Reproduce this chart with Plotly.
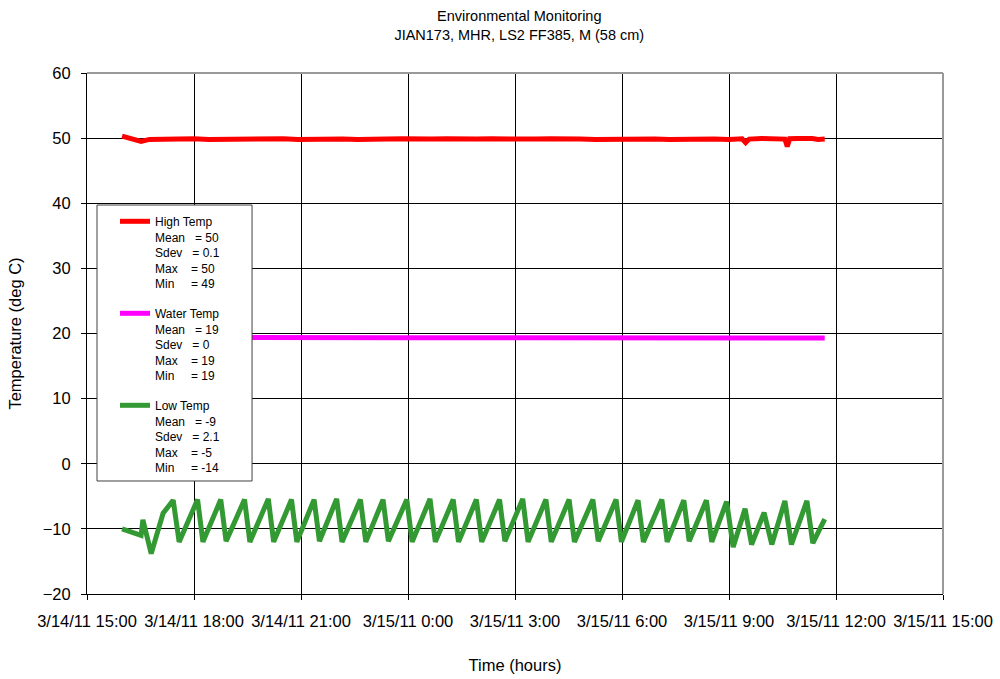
import plotly.graph_objects as go

# ---------------- data ----------------
x_tick_vals = ["2011-03-14 15:00", "2011-03-14 18:00", "2011-03-14 21:00",
               "2011-03-15 00:00", "2011-03-15 03:00", "2011-03-15 06:00",
               "2011-03-15 09:00", "2011-03-15 12:00", "2011-03-15 15:00"]
x_tick_text = ["3/14/11 15:00", "3/14/11 18:00", "3/14/11 21:00", "3/15/11 0:00",
               "3/15/11 3:00", "3/15/11 6:00", "3/15/11 9:00", "3/15/11 12:00",
               "3/15/11 15:00"]
y_tick_vals = [-20, -10, 0, 10, 20, 30, 40, 50, 60]

high_times = ["2011-03-14 15:59", "2011-03-14 16:31", "2011-03-14 16:45", "2011-03-14 17:10",
              "2011-03-14 17:35", "2011-03-14 18:00", "2011-03-14 18:25", "2011-03-14 18:50",
              "2011-03-14 19:15", "2011-03-14 19:40", "2011-03-14 20:05", "2011-03-14 20:30",
              "2011-03-14 20:55", "2011-03-14 21:20", "2011-03-14 21:45", "2011-03-14 22:10",
              "2011-03-14 22:35", "2011-03-14 23:00", "2011-03-14 23:25", "2011-03-14 23:50",
              "2011-03-15 00:15", "2011-03-15 00:40", "2011-03-15 01:05", "2011-03-15 01:30",
              "2011-03-15 01:55", "2011-03-15 02:20", "2011-03-15 02:45", "2011-03-15 03:10",
              "2011-03-15 03:35", "2011-03-15 04:00", "2011-03-15 04:25", "2011-03-15 04:50",
              "2011-03-15 05:15", "2011-03-15 05:40", "2011-03-15 06:05", "2011-03-15 06:30",
              "2011-03-15 06:55", "2011-03-15 07:20", "2011-03-15 07:45", "2011-03-15 08:10",
              "2011-03-15 08:35", "2011-03-15 09:00", "2011-03-15 09:22", "2011-03-15 09:28",
              "2011-03-15 09:34", "2011-03-15 09:55", "2011-03-15 10:15", "2011-03-15 10:34",
              "2011-03-15 10:38", "2011-03-15 10:42", "2011-03-15 10:55", "2011-03-15 11:10",
              "2011-03-15 11:20", "2011-03-15 11:30", "2011-03-15 11:41"]
high_vals = [50.3, 49.5, 49.8, 49.85, 49.8, 49.9, 49.8, 49.85, 49.9, 49.8, 49.85, 49.9,
             49.8, 49.85, 49.9, 49.85, 49.8, 49.9, 49.85, 49.9, 49.8, 49.85, 49.9, 49.8,
             49.85, 49.9, 49.85, 49.8, 49.85, 49.9, 49.8, 49.85, 49.8, 49.85, 49.8, 49.9,
             49.85, 49.8, 49.85, 49.9, 49.85, 49.8, 49.9, 49.3, 49.85, 49.95, 49.9, 49.85,
             48.7, 49.9, 49.95, 50.0, 49.95, 49.8, 49.85]

water_times = ["2011-03-14 15:59", "2011-03-14 18:00", "2011-03-14 21:00", "2011-03-15 00:00",
               "2011-03-15 03:00", "2011-03-15 06:00", "2011-03-15 09:00", "2011-03-15 11:41"]
water_vals = [19.4, 19.35, 19.35, 19.35, 19.35, 19.35, 19.3, 19.3]

low_times = ["2011-03-14 15:59", "2011-03-14 16:31", "2011-03-14 16:34", "2011-03-14 16:48",
             "2011-03-14 17:08", "2011-03-14 17:25", "2011-03-14 17:35",
             "2011-03-14 18:06", "2011-03-14 18:15", "2011-03-14 18:45", "2011-03-14 18:54",
             "2011-03-14 19:25", "2011-03-14 19:34", "2011-03-14 20:05", "2011-03-14 20:14",
             "2011-03-14 20:44", "2011-03-14 20:53", "2011-03-14 21:22", "2011-03-14 21:31",
             "2011-03-14 22:00", "2011-03-14 22:09", "2011-03-14 22:40", "2011-03-14 22:49",
             "2011-03-14 23:18", "2011-03-14 23:27", "2011-03-14 23:58", "2011-03-15 00:07",
             "2011-03-15 00:37", "2011-03-15 00:46", "2011-03-15 01:16", "2011-03-15 01:25",
             "2011-03-15 01:55", "2011-03-15 02:04", "2011-03-15 02:34", "2011-03-15 02:43",
             "2011-03-15 03:13", "2011-03-15 03:22", "2011-03-15 03:52", "2011-03-15 04:01",
             "2011-03-15 04:31", "2011-03-15 04:40", "2011-03-15 05:11", "2011-03-15 05:20",
             "2011-03-15 05:50", "2011-03-15 05:59", "2011-03-15 06:27", "2011-03-15 06:36",
             "2011-03-15 07:07", "2011-03-15 07:16", "2011-03-15 07:44", "2011-03-15 07:53",
             "2011-03-15 08:22", "2011-03-15 08:31", "2011-03-15 08:56", "2011-03-15 09:07",
             "2011-03-15 09:27", "2011-03-15 09:38", "2011-03-15 09:59", "2011-03-15 10:12",
             "2011-03-15 10:34", "2011-03-15 10:45", "2011-03-15 11:11", "2011-03-15 11:21",
             "2011-03-15 11:41"]
low_vals = [-10.0, -11.0, -8.6, -13.8,
            -7.6, -5.6, -12.0,
            -5.5, -12.0, -5.5, -11.9,
            -5.5, -12.0, -5.4, -12.0,
            -5.5, -12.0, -5.5, -11.9,
            -5.4, -12.0, -5.5, -12.0,
            -5.5, -11.9, -5.5, -12.0,
            -5.4, -12.0, -5.5, -12.0,
            -5.5, -12.0, -5.5, -11.9,
            -5.4, -12.0, -5.5, -12.0,
            -5.5, -12.0, -5.5, -11.9,
            -5.5, -12.0, -5.6, -12.0,
            -5.5, -12.0, -5.6, -11.9,
            -5.6, -12.0, -5.8, -12.8,
            -6.9, -12.4, -7.5, -12.4,
            -5.7, -12.4, -5.7, -12.2,
            -8.5]

NB = "\u00a0"
high_name = ("High Temp<br>Mean" + NB * 3 + "= 50<br>Sdev" + NB * 3 + "= 0.1<br>Max" + NB * 4
             + "= 50<br>Min" + NB * 5 + "= 49")
water_name = ("Water Temp<br>Mean" + NB * 3 + "= 19<br>Sdev" + NB * 3 + "= 0<br>Max" + NB * 4
              + "= 19<br>Min" + NB * 5 + "= 19")
low_name = ("Low Temp<br>Mean" + NB * 3 + "= -9<br>Sdev" + NB * 3 + "= 2.1<br>Max" + NB * 4
            + "= -5<br>Min" + NB * 5 + "= -14")

# ---------------- figure ----------------
fig = go.Figure()
fig.add_trace(go.Scatter(x=high_times, y=high_vals, mode="lines", name=high_name,
                         legendgroup="h", line=dict(color="#FF0000", width=5)))
fig.add_trace(go.Scatter(x=water_times, y=water_vals, mode="lines", name=water_name,
                         legendgroup="w", line=dict(color="#FF00FF", width=5)))
fig.add_trace(go.Scatter(x=low_times, y=low_vals, mode="lines", name=low_name,
                         legendgroup="l", line=dict(color="#339933", width=5)))

font_family = "Liberation Sans, Arial, sans-serif"

fig.update_layout(
    width=1000, height=679,
    margin=dict(l=87, r=57, t=73, b=85),
    paper_bgcolor="white", plot_bgcolor="white",
    font=dict(family=font_family, color="black", size=16),
    title=dict(text="Environmental Monitoring<br>JIAN173, MHR, LS2 FF385, M (58 cm)",
               x=0.505, xanchor="center", xref="paper", y=0.969, yanchor="top",
               yref="container", font=dict(size=14.5, family=font_family, color="black")),
    showlegend=True,
    legend=dict(x=0.0327, y=0.7428, xanchor="left", yanchor="top",
                bgcolor="rgba(0,0,0,0)", borderwidth=0,
                font=dict(size=12, family=font_family, color="black"),
                tracegroupgap=11, valign="top", itemwidth=30,
                traceorder="grouped"),
    xaxis=dict(type="date", range=["2011-03-14 15:00", "2011-03-15 15:00"],
               tickmode="array", tickvals=x_tick_vals, ticktext=x_tick_text,
               showgrid=True, gridcolor="black", gridwidth=1,
               showline=True, linecolor="black", linewidth=1,
               ticks="outside", ticklen=5, tickcolor="black",
               tickfont=dict(size=16.5), tickangle=0, ticklabelstandoff=7,
               title=dict(text="Time (hours)", font=dict(size=16.5), standoff=30),
               zeroline=False, automargin=False),
    yaxis=dict(range=[-20, 60], tickmode="array", tickvals=y_tick_vals,
               showgrid=True, gridcolor="black", gridwidth=1,
               showline=True, linecolor="black", linewidth=1,
               ticks="outside", ticklen=5, tickcolor="black",
               tickfont=dict(size=16.5), ticklabelstandoff=7,
               title=dict(text="Temperature (deg C)", font=dict(size=16.5), standoff=16),
               zeroline=False, automargin=False),
    shapes=[
        dict(type="line", xref="paper", yref="paper", x0=0, x1=1, y0=1, y1=1,
             line=dict(color="#999999", width=2), layer="above"),
        dict(type="line", xref="paper", yref="paper", x0=1, x1=1, y0=0, y1=1,
             line=dict(color="#999999", width=2), layer="above"),
        # legend frame
        dict(type="rect", xref="paper", yref="paper", x0=0.0117, x1=0.1928,
             y0=0.2169, y1=0.7466, fillcolor="white",
             line=dict(color="#404040", width=1), layer="above"),
    ],
)

fig.write_html("out.html", config={"displayModeBar": False},
               post_script="document.body.style.margin='0';")
